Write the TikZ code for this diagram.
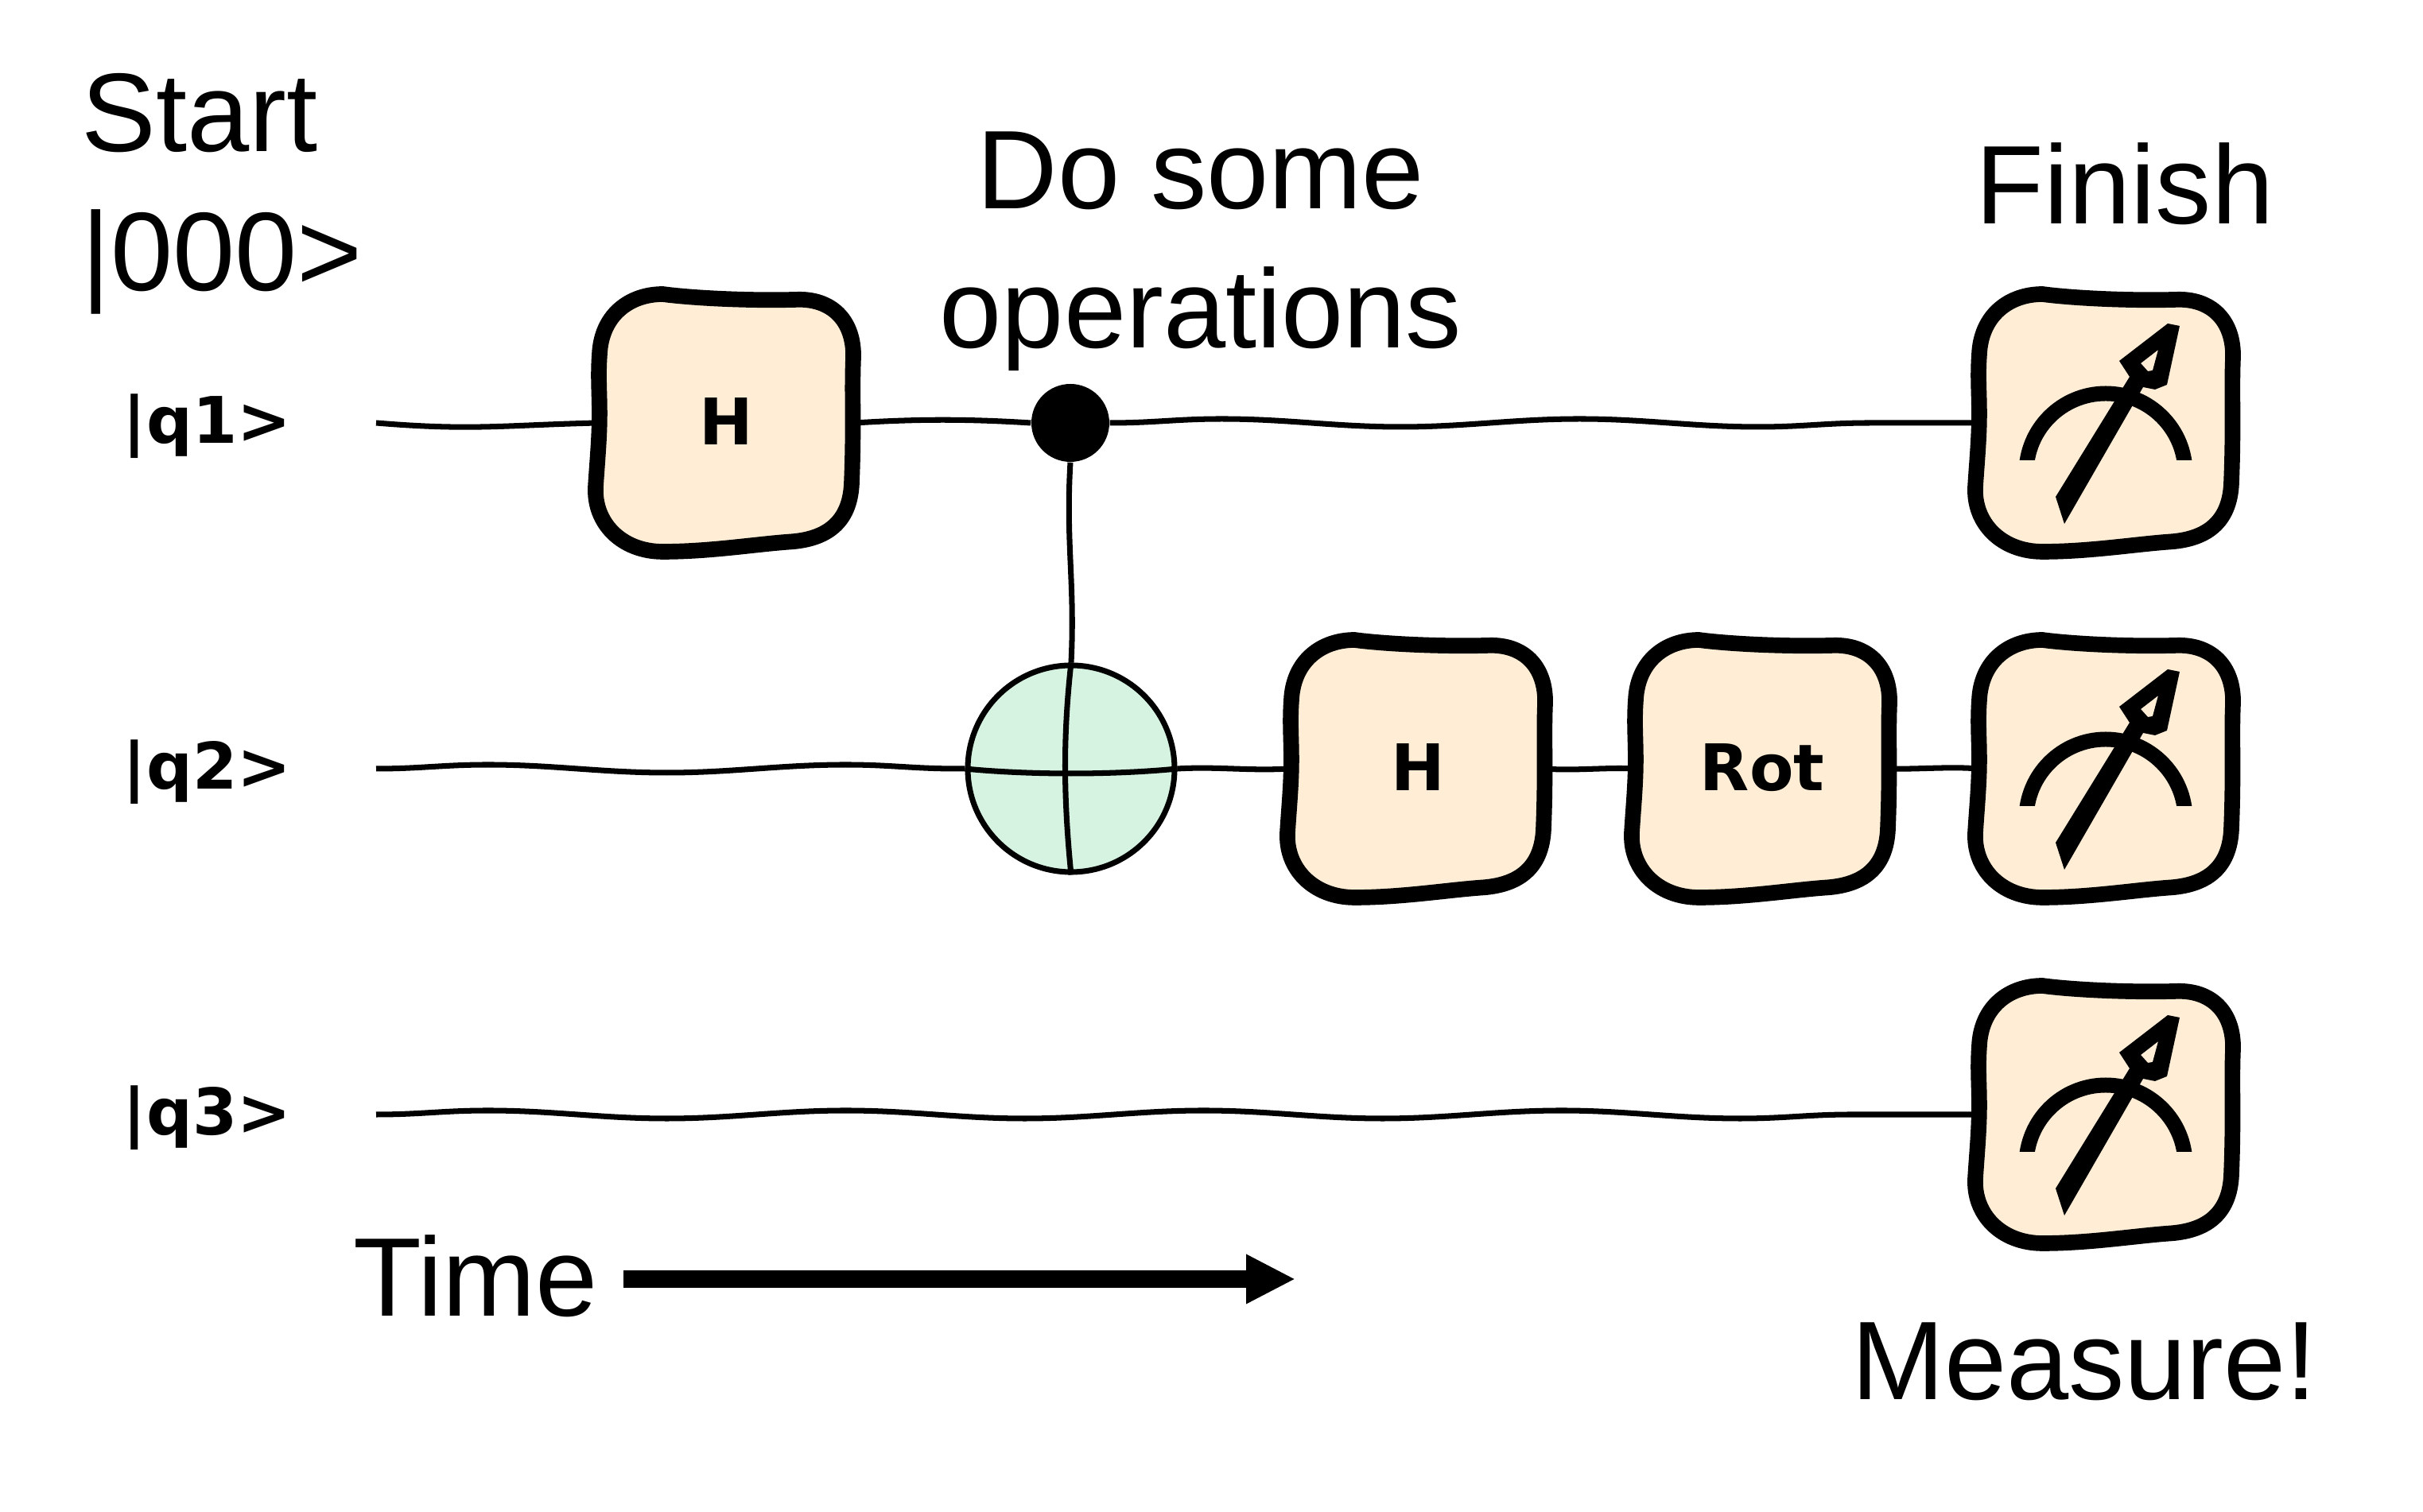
\documentclass[tikz,border=0pt]{standalone}
\usepackage{fontspec}
\setmainfont{Liberation Sans}
\newfontfamily\gatefont{DejaVu Sans}
\usetikzlibrary{arrows.meta,decorations.pathmorphing}

\tikzset{
  bigtext/.style={inner sep=0pt,font=\fontsize{40}{50}\selectfont,text=black},
  gatetext/.style={inner sep=0pt,font=\gatefont\bfseries\fontsize{23}{27}\selectfont,text=black},
  gatebody/.style={draw=black,line width=5.6pt,fill=gatefill,line join=round},
  gatenode/.style={inner sep=0pt,outer sep=0pt,minimum size=3.24cm,gatetext},
  wire/.style={draw=black,line width=2pt},
  wavy/.style={decorate,decoration={snake,segment length=4.5cm,amplitude=.05cm}}
}
\definecolor{gatefill}{HTML}{FFEED5}
\definecolor{targetfill}{HTML}{D5F3E0}

\newcommand{\gatebox}[3]{
  \draw[gatebody,shift={(#2)},scale=.97] (-.82,1.67) .. controls (-.45,1.62) and (.3,1.58) .. (.95,1.6)
    .. controls (1.4,1.6) and (1.66,1.3) .. (1.65,.85)
    .. controls (1.63,.4) and (1.66,0) .. (1.63,-.75)
    .. controls (1.62,-1.25) and (1.35,-1.5) .. (.85,-1.54)
    .. controls (.4,-1.57) and (-.2,-1.67) .. (-.82,-1.67)
    .. controls (-1.35,-1.67) and (-1.72,-1.3) .. (-1.69,-.82)
    .. controls (-1.67,-.5) and (-1.64,-.2) .. (-1.64,.12)
    .. controls (-1.64,.4) and (-1.66,.6) .. (-1.64,.88)
    .. controls (-1.62,1.4) and (-1.25,1.67) .. (-.82,1.67) -- cycle;
  \node[gatenode] (#1) at (#2) {\raisebox{.04cm}{#3}};
}
\newcommand{\meterbox}[2]{
  \gatebox{#1}{#2}{}
  \begin{scope}[shift={(#2)}]
  \clip (-1.5,-.47) rectangle (1.5,1.5);
  \draw[line width=5.4pt] (-1,-.63) arc[start angle=180,end angle=0,radius=1];
  \end{scope}
  \fill[even odd rule,shift={(#2)}] (-.63,-.93) -- (-.52,-1.27) -- (.47,.45) -- (.62,.42) -- (.77,.48)
    -- (.93,1.22) -- (.78,1.25) -- (.17,.78) -- (.30,.58) -- cycle
    (.44,.75) -- (.66,.92) -- (.59,.66) -- (.53,.65) -- cycle;
}

\begin{document}
\begin{tikzpicture}
\useasboundingbox (0,0) rectangle (30.47,19.02);

\node[bigtext,anchor=base west,align=left] (start) at (1.02,15.36) {Start\\|000>};
\node[bigtext,anchor=base,align=center] (doops) at (15.10,14.64) {Do some\\operations};
\node[bigtext,anchor=base] (finish) at (26.72,16.20) {Finish};
\node[bigtext,anchor=base] (measure) at (26.21,1.41) {Measure!};
\node[bigtext,anchor=base west] (time) at (4.44,2.46) {Time};

\node[gatetext,anchor=west] (q1) at (1.54,13.66) {|q1>};
\node[gatetext,anchor=west] (q2) at (1.54,9.31) {|q2>};
\node[gatetext,anchor=west] (q3) at (1.54,4.96) {|q3>};
\coordinate (s1) at (4.73,13.70);
\coordinate (s2) at (4.73,9.35);
\coordinate (s3) at (4.73,5.00);

\gatebox{h1}{9.13,13.70}{H}
\gatebox{h2}{17.83,9.35}{H}
\gatebox{rot}{22.16,9.35}{Rot}
\meterbox{m1}{26.48,13.70}
\meterbox{m2}{26.48,9.35}
\meterbox{m3}{26.48,5.00}

\node[circle,fill=black,inner sep=0pt,minimum size=.98cm] (ctrl) at (13.46,13.70) {};
\node[circle,draw=black,line width=2pt,fill=targetfill,inner sep=0pt,minimum size=2.6cm] (target) at (13.47,9.35) {};

% top wire
\draw[wire] (s1) .. controls +(1.2,-.1) and +(-1.2,-.03) .. (h1.west);
\draw[wire] (h1.east) .. controls +(.8,.05) and +(-.8,.05) .. (ctrl.west);
\draw[wire,wavy] (ctrl.east) -- (m1.west);
% middle wire
\draw[wire,wavy] (s2) -- (target.west);
\draw[wire] (target.east) .. controls +(.5,.03) and +(-.5,-.03) .. (h2.west);
\draw[wire] (h2.east) .. controls +(.3,-.03) and +(-.3,.02) .. (rot.west);
\draw[wire] (rot.east) .. controls +(.3,-.01) and +(-.3,.03) .. (m2.west);
% bottom wire
\draw[wire,wavy] (s3) -- (m3.west);

\draw[wire] (ctrl.south) .. controls +(-.06,-1) and +(.05,1) .. (target.north);
\draw[wire] (target.west) .. controls +(.8,-.08) and +(-.8,-.08) .. (target.east);
\draw[wire] (target.north) .. controls +(-.1,-.9) and +(-.1,1) .. (target.south);

\coordinate (tend) at (16.29,2.93);
\draw[line width=6pt,-{Triangle[length=.62cm,width=.58cm]},shorten <=.31cm] (time.east |- tend) -- (tend);
\end{tikzpicture}
\end{document}
